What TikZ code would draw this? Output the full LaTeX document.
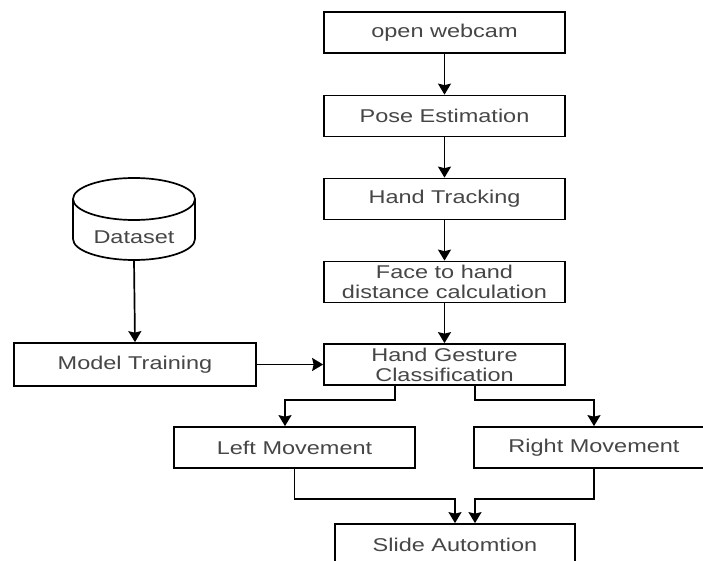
\documentclass[tikz,border=0pt]{standalone}
\usepackage{fontspec}
\setmainfont{Liberation Sans}[FakeStretch=1.27]
\usetikzlibrary{arrows.meta,calc}
\definecolor{txt}{RGB}{70,70,70}
\begin{document}
\begin{tikzpicture}[x=1pt,y=1pt,
  box/.style={draw=black, line width=1.7pt, inner sep=0pt, align=center,
    text=txt, font=\fontsize{18.5}{20}\selectfont,
    minimum width=241pt, minimum height=41pt},
  arr/.style={draw=black, line width=1.7pt, -{Stealth[width=13pt,length=11pt,inset=1.5pt]}},
  lbl/.style={inner sep=0pt, text=txt, font=\fontsize{18.5}{20}\selectfont}
]
\clip (0,0) rectangle (703,-561);
\fill[white] (0,0) rectangle (703,-561);
% main column
\node[box] (web)   at (444.5,-32.5) {open webcam};
\node[box] (pose)  at (444.5,-116)  {Pose Estimation};
\node[box] (track) at (444.5,-199)  {Hand Tracking};
\node[box] (face)  at (444.5,-282)  {Face to hand\\distance calculation};
\node[box] (gest)  at (444.5,-364.5){Hand Gesture\\Classification};
\node[box, minimum width=242pt, minimum height=43pt] (mt) at (135,-364.5) {Model Training};
\node[box] (left)  at (294.5,-447.5) {Left Movement};
\node[box, minimum width=240pt] (right) at (594,-447.5) {Right Movement};
\node[box, minimum width=240pt, minimum height=42pt] (slide) at (455,-545) {Slide Automtion};
% dataset cylinder
\draw[line width=1.7pt, fill=white] (73,-199) -- (73,-239)
  arc[start angle=180, end angle=360, x radius=61pt, y radius=21pt] -- (195,-199);
\draw[line width=1.7pt] (134,-199) ellipse [x radius=61pt, y radius=21pt];
\node[lbl] (ds) at (134,-237) {Dataset};
\coordinate (dsb) at (134,-260);
% connectors
\draw[arr] (web) -- (pose);
\draw[arr] (pose) -- (track);
\draw[arr] (track) -- (face);
\draw[arr] (face) -- (gest);
\draw[arr] (dsb) -- (mt.north);
\draw[arr] (mt) -- (gest);
\draw[arr] ([xshift=-49.5pt]gest.south) -- ++(0,-14) -| ([xshift=-9.5pt]left.north);
\draw[arr] ([xshift=30.5pt]gest.south) -- ++(0,-14) -| (right.north);
\draw[arr] (left.south) -- ++(0,-30) -| (slide.north);
\draw[arr] (right.south) -- ++(0,-30) -| ([xshift=20pt]slide.north);
\end{tikzpicture}
\end{document}
